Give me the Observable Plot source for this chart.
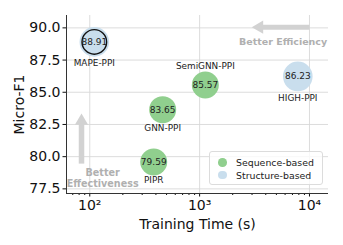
<!DOCTYPE html>
<html>
<head>
<meta charset="utf-8">
<script src="https://cdn.jsdelivr.net/npm/d3@7"></script>
<script src="https://cdn.jsdelivr.net/npm/@observablehq/plot@0.6"></script>
<style>
  html, body { margin: 0; padding: 0; background: #fff; }
  #wrap { position: relative; width: 343px; height: 245px; font-family: "DejaVu Sans", sans-serif; }
  #wrap svg { display: block; }
  #legend { position: absolute; left: 209px; top: 151px; width: 114px; height: 34px;
    box-sizing: border-box; border: 1px solid #dcdcdc; border-radius: 3px; background: rgba(255,255,255,0.8);
    font-size: 9.4px; color: #222; }
  .item { position: absolute; left: 8px; display: flex; align-items: center; white-space: nowrap; height: 12px; }
  .sw { width: 8.5px; height: 8.5px; border-radius: 50%; margin-right: 9.5px; }
</style>
</head>
<body>
<div id="wrap"></div>
<script>
// ---- data ----
const methods = ["MAPE-PPI", "SemiGNN-PPI", "HIGH-PPI", "GNN-PPI", "PIPR"];
const trainTime = [110, 1127, 7830, 461, 382];           // seconds
const microF1 = [88.91, 85.57, 86.23, 83.65, 79.59];
const groups = ["Structure-based", "Sequence-based", "Structure-based", "Sequence-based", "Sequence-based"];
const labelSide = ["below", "above", "below", "below", "below"];
const highlighted = ["MAPE-PPI"];
const legendLabels = ["Sequence-based", "Structure-based"];
const groupColors = ["#90cf8e", "#c9deed"];
const xMajorTicks = [100, 1000, 10000];
const xTickLabels = ["10\u00B2", "10\u00B3", "10\u2074"];
const xMinorTicks = [70, 80, 90, 200, 300, 400, 500, 600, 700, 800, 900,
  2000, 3000, 4000, 5000, 6000, 7000, 8000, 9000];
const yTicks = [77.5, 80.0, 82.5, 85.0, 87.5, 90.0];

const data = methods.map((m, i) => ({
  method: m, time: trainTime[i], f1: microF1[i], group: groups[i], side: labelSide[i]
}));
const seq = data.filter(d => d.group === "Sequence-based");
const str = data.filter(d => d.group === "Structure-based");

const xDomain = [61.4, 14900];
const yDomain = [77.14, 90.96];
const arrowColor = "#d2d2d2";
const noteColor = "#b0b0b0";
const axisFont = 14;

const chart = Plot.plot({
  width: 343, height: 245,
  marginLeft: 66, marginRight: 15, marginTop: 15, marginBottom: 52,
  style: { fontFamily: "DejaVu Sans, sans-serif", fontSize: axisFont + "px", color: "#111", background: "#fff" },
  x: { type: "log", domain: xDomain },
  y: { domain: yDomain },
  marks: [
    Plot.gridX(xMajorTicks, { stroke: "#d8d8d8", strokeOpacity: 1, strokeWidth: 0.9 }),
    Plot.gridY(yTicks, { stroke: "#d8d8d8", strokeOpacity: 1, strokeWidth: 0.9 }),
    // arrows
    Plot.link([0], { x1: 10000, x2: 3420, y1: 90.05, y2: 90.05, stroke: arrowColor, strokeWidth: 5 }),
    Plot.dot([0], { x: 2990, y: 90.05, symbol: "triangle", r: 4.9, rotate: -90, dx: 7.5, fill: arrowColor }),
    Plot.link([0], { x1: 84.1, x2: 84.1, y1: 79.46, y2: 82.8, stroke: arrowColor, strokeWidth: 5.5 }),
    Plot.dot([0], { x: 84.1, y: 83.35, symbol: "triangle", r: 4.9, rotate: 0, dy: 7.5, fill: arrowColor }),
    Plot.text(["Better Efficiency"], { x: 5750, y: 88.88, text: d => d, fill: noteColor, fontWeight: "bold", fontSize: 9.5 }),
    Plot.text(["Better\nEffectiveness"], { x: 131, y: 78.35, text: d => d, fill: noteColor, fontWeight: "bold", fontSize: 9.6, lineHeight: 1.15 }),
    // bubbles
    Plot.dot(seq, { x: "time", y: "f1", r: 13.5, fill: groupColors[0] }),
    Plot.dot(str, { x: "time", y: "f1", r: 14.8, fill: groupColors[1] }),
    Plot.dot(data.filter(d => highlighted.includes(d.method)), { x: "time", y: "f1", r: 12.3, fill: "none", stroke: "#111", strokeWidth: 1.4 }),
    Plot.text(data, { x: "time", y: "f1", text: d => d.f1.toFixed(2), fontSize: 9, fill: "#222" }),
    Plot.text(seq.filter(d => d.side === "below"), { x: "time", y: "f1", text: "method", fontSize: 8.9, fill: "#222", dy: 18.6 }),
    Plot.text(str.filter(d => d.side === "below"), { x: "time", y: "f1", text: "method", fontSize: 8.9, fill: "#222", dy: 21.4 }),
    Plot.text(data.filter(d => d.side === "above"), { x: "time", y: "f1", text: "method", fontSize: 8.9, fill: "#222", dy: -19 }),
    // axes
    Plot.axisY(yTicks, { tickFormat: d => d.toFixed(1), tickSize: 3.5, tickPadding: 2.5, label: "Micro-F1",
      labelAnchor: "center", labelArrow: "none", labelOffset: 52, fontSize: axisFont }),
    Plot.axisX(xMajorTicks, { tickFormat: d => xTickLabels[xMajorTicks.indexOf(d)], tickSize: 3.5, tickPadding: 3,
      label: "Training Time (s)", labelAnchor: "center", labelArrow: "none", labelOffset: 35, fontSize: axisFont }),
    Plot.axisX(xMinorTicks, { tickFormat: () => "", tickSize: 2, label: null }),
    Plot.ruleX([xDomain[0]], { stroke: "#333", strokeWidth: 1 }),
    Plot.ruleY([yDomain[0]], { stroke: "#333", strokeWidth: 1 })
  ]
});

const wrap = document.getElementById("wrap");
wrap.appendChild(chart);

// legend drawn inside the plot area, as in the reference
const legend = document.createElement("div");
legend.id = "legend";
legendLabels.forEach((lab, i) => {
  const item = document.createElement("div");
  item.className = "item";
  item.style.top = (4.5 + i * 12.6) + "px";
  const sw = document.createElement("span");
  sw.className = "sw";
  sw.style.background = groupColors[i];
  const tx = document.createElement("span");
  tx.textContent = lab;
  item.appendChild(sw);
  item.appendChild(tx);
  legend.appendChild(item);
});
wrap.appendChild(legend);
</script>
</body>
</html>
